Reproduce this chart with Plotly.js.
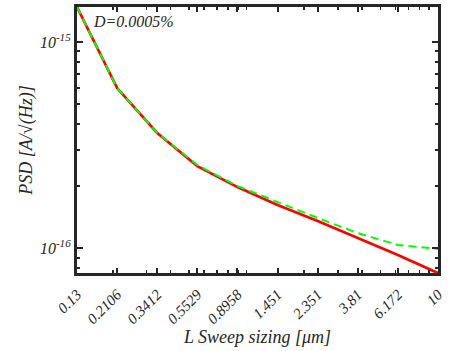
<!DOCTYPE html>
<html><head><meta charset="utf-8">
<script src="https://cdn.plot.ly/plotly-3.0.1.min.js"></script>
<style>html,body{margin:0;padding:0;background:#fff;}#plot{width:449px;height:351px;}</style>
</head><body><div id="plot"></div>
<script>
const xVals = [0.13, 0.2106, 0.3412, 0.5529, 0.8958, 1.451, 2.351, 3.81, 6.172, 10];
const xTickText = ["0.13", "0.2106", "0.3412", "0.5529", "0.8958", "1.451", "2.351", "3.81", "6.172", "10"];
const redPSD = [1.479e-15, 5.98e-16, 3.62e-16, 2.50e-16, 1.977e-16, 1.617e-16, 1.352e-16, 1.119e-16, 9.25e-17, 7.56e-17];
const greenPSD = [1.479e-15, 5.98e-16, 3.62e-16, 2.53e-16, 2.00e-16, 1.671e-16, 1.40e-16, 1.183e-16, 1.035e-16, 9.9e-17];
const yTickVals = [1e-16, 1e-15];
const yTickText = ["10<sup>-16</sup>", "10<sup>-15</sup>"];
const yMinor = [8e-17, 9e-17, 2e-16, 3e-16, 4e-16, 5e-16, 6e-16, 7e-16, 8e-16, 9e-16];
const xMinor = [0.2, 0.3, 0.4, 0.5, 0.6, 0.7, 0.8, 0.9, 1, 2, 3, 4, 5, 6, 7, 8, 9];
const annText = "D=0.0005%";

const axCol = "#262626";
const fontFam = "'Liberation Serif', 'Times New Roman', serif";

const traces = [
  {x: xVals, y: redPSD, mode: "lines", line: {color: "#ff0000", width: 2.7}, showlegend: false},
  {x: xVals, y: greenPSD, mode: "lines", line: {color: "#00ff00", width: 2, dash: "8px,5px"}, showlegend: false}
];

const layout = {
  width: 449, height: 351,
  margin: {l: 77, r: 11, t: 7, b: 78},
  paper_bgcolor: "#fff", plot_bgcolor: "#fff",
  xaxis: {
    type: "log", range: [Math.log10(0.13), 1],
    tickmode: "array", tickvals: xVals, ticktext: xTickText,
    tickangle: -45, ticks: "inside", ticklen: 5, tickwidth: 2, tickcolor: axCol,
    ticklabelstandoff: 4,
    minor: {tickmode: "array", tickvals: xMinor, ticks: "inside", ticklen: 3, tickwidth: 1.5, tickcolor: axCol},
    showline: true, linewidth: 3, linecolor: axCol, mirror: "ticks",
    showgrid: false, zeroline: false,
    tickfont: {family: fontFam, size: 15, color: axCol, style: "italic"},
    title: {text: "L Sweep sizing [<i>μ</i>m]", font: {family: fontFam, size: 18, color: axCol, style: "italic"}, standoff: 4}
  },
  yaxis: {
    type: "log", range: [-16.121, -14.83],
    tickmode: "array", tickvals: yTickVals, ticktext: yTickText,
    ticks: "inside", ticklen: 6, tickwidth: 2, tickcolor: axCol,
    minor: {tickmode: "array", tickvals: yMinor, ticks: "inside", ticklen: 3, tickwidth: 2, tickcolor: axCol},
    showline: true, linewidth: 3, linecolor: axCol, mirror: "ticks",
    showgrid: false, zeroline: false,
    tickfont: {family: fontFam, size: 16, color: axCol, style: "italic"},
    title: {text: "PSD [A/√(Hz)]", font: {family: fontFam, size: 18, color: axCol, style: "italic"}, standoff: 3}
  },
  annotations: [{
    xref: "paper", yref: "paper", x: 0.04, y: 0.985, xanchor: "left", yanchor: "top",
    text: annText, showarrow: false,
    font: {family: fontFam, size: 16, color: axCol, style: "italic"}
  }]
};

Plotly.newPlot("plot", traces, layout, {staticPlot: true, displayModeBar: false});
</script>
</body></html>
